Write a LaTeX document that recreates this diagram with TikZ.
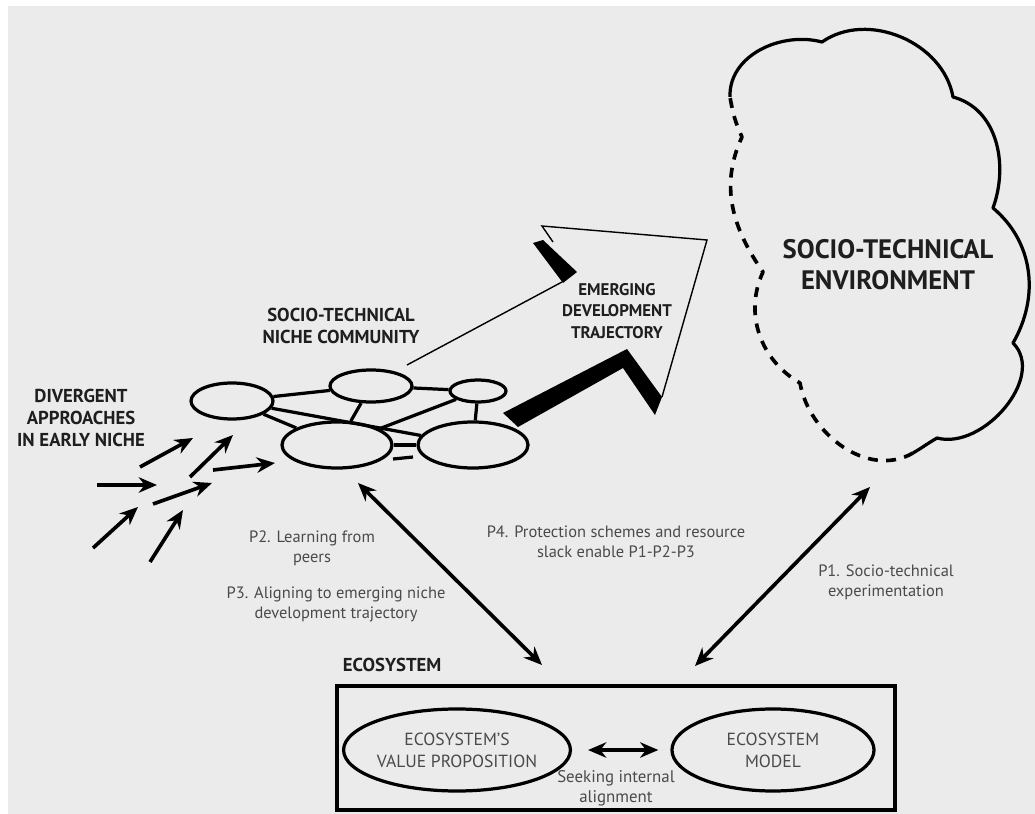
\documentclass[tikz,border=0pt]{standalone}
\usepackage{fontspec}
\setmainfont{PT Sans}
\newfontfamily\headfont{PT Sans}
\usetikzlibrary{arrows.meta,shapes.geometric}
\definecolor{bggray}{HTML}{EBEBEB}
\definecolor{capgray}{HTML}{1E1E1E}
\definecolor{txtgray}{HTML}{4A4A4A}

\begin{document}
\begin{tikzpicture}[x=0.025cm,y=0.025cm,>=Stealth]
\tikzstyle{blob}=[draw,ellipse,line width=2.3pt,inner sep=0pt]
\tikzstyle{lnk}=[line width=2.3pt]
\tikzstyle{hd}=[font=\headfont\bfseries\fontsize{13.3}{15.6}\selectfont,text=capgray,align=center]
\tikzstyle{nt}=[font=\fontsize{11.7}{14.2}\selectfont,text=txtgray,align=center]
\tikzstyle{shoot}=[-{Stealth[length=13pt,width=11pt]},line width=2.6pt]
\tikzstyle{both}=[{Stealth[length=13pt,width=11pt]}-{Stealth[length=13pt,width=11pt]},line width=2.6pt]
\tikzstyle{cloud}=[line width=2.3pt,line join=round]
\useasboundingbox (0,0) rectangle (1035,-814);
\fill[white] (0,0) rectangle (1035,-814); \fill[bggray] (8,-6) rectangle (1035,-814);

% environment cloud
\draw[cloud] (730,-97) to[out=92,in=165] (822,-42) to[out=35,in=100] (953,-97) to[out=-15,in=70] (993,-208)
  to[out=-40,in=60] (1013,-343) to[out=-45,in=-15] (937,-438) to[out=-150,in=30] (913,-453);
\draw[cloud,line width=2.6pt,dash pattern=on 7pt off 6pt] (913,-453) to[out=-150,in=-80] (800,-383) to[out=150,in=-115] (763,-272)
  to[out=125,in=-115] (742,-137) to[out=115,in=-80] (730,-97);
\node[hd,font=\headfont\bfseries\fontsize{19}{22}\selectfont] (env) at (888,-265) {SOCIO-TECHNICAL\\ENVIRONMENT};

% trajectory arrow
\coordinate (sh1) at (407,-365); \coordinate (sh2) at (562,-282);
\draw[line width=1pt] (sh1) -- (sh2); \draw[line width=1pt,line join=miter] (553,-242) -- (542,-226) -- (707,-240) -- (662,-397);
\fill (533,-243) -- (543,-240) -- (577,-272) -- (563,-283) -- cycle;
\fill (503,-413) -- (627,-349) -- (662,-397) -- (655,-415) -- (623,-368) -- (518,-427) -- cycle;
\node[hd,font=\headfont\bfseries\fontsize{12}{15.2}\selectfont] (traj) at (617,-311) {EMERGING\\DEVELOPMENT\\TRAJECTORY};

% niche community
\node[blob,minimum width=2.05cm,minimum height=0.9cm] (e1) at (232,-401) {};
\node[blob,minimum width=2.05cm,minimum height=0.8cm] (e2) at (371,-386) {};
\node[blob,minimum width=1.4cm,minimum height=0.55cm] (e3) at (478,-391) {};
\node[blob,minimum width=2.75cm,minimum height=1.15cm] (e4) at (337,-445) {};
\node[blob,minimum width=2.75cm,minimum height=1.15cm] (e5) at (473,-445) {};
\draw[lnk] (e1) -- (e2); \draw[lnk] (e1) -- (e5); \draw[lnk] (e1) -- (e4); \draw[lnk] (e2) -- (e4);
\draw[lnk] (e2) -- (e3); \draw[lnk] (e3) -- (e4); \draw[lnk] (e3) -- (e5); \draw[lnk] (e4) -- (e5);
\draw[lnk] (393,-459) -- (413,-457);
\node[hd] (niche) at (341,-326) {SOCIO-TECHNICAL\\NICHE COMMUNITY};

% divergent approaches
\node[hd] (div) at (81,-418) {DIVERGENT\\APPROACHES\\IN EARLY NICHE};
\foreach \sx/\sy/\ex/\ey in {140/-467/193/-438, 190/-477/233/-435, 213/-470/275/-463, 97/-485/157/-485,
  153/-504/212/-483, 93/-548/138/-507, 150/-562/183/-510}
  \draw[shoot] (\sx,\sy) -- (\ex,\ey);

% processes
\node[nt] (p2) at (312,-548) {P2. Learning from\\peers};
\node[nt] (p3) at (336,-604) {P3. Aligning to emerging niche\\development trajectory};
\node[nt] (p4) at (616,-542) {P4. Protection schemes and resource\\slack enable P1-P2-P3};
\node[nt] (p1) at (886,-582) {P1. Socio-technical\\experimentation};
\coordinate (nt) at (358,-483); \coordinate (nb) at (542,-665);
\coordinate (et) at (870,-487); \coordinate (eb) at (695,-666);
\draw[both] (nt) -- (nb); \draw[both] (et) -- (eb);

% ecosystem
\node[hd,anchor=west] (ecol) at (338,-665) {ECOSYSTEM};
\node[draw,line width=2.9pt,minimum width=13.95cm,minimum height=3.1cm] (eco) at (616,-748) {};
\node[blob,nt,font=\fontsize{12.5}{15.5}\selectfont,minimum width=5cm,minimum height=2.05cm] (vp) at (457,-750) {ECOSYSTEM'S\\VALUE PROPOSITION};
\node[blob,nt,font=\fontsize{12.5}{15.5}\selectfont,minimum width=5.05cm,minimum height=2.05cm] (em) at (773,-750) {ECOSYSTEM\\MODEL};
\draw[both,shorten <=0.4cm,shorten >=0.3cm] (vp) -- (em);
\node[nt,font=\fontsize{12}{14.2}\selectfont] (seek) at (616,-788) {Seeking internal\\alignment};
\end{tikzpicture}
\end{document}
